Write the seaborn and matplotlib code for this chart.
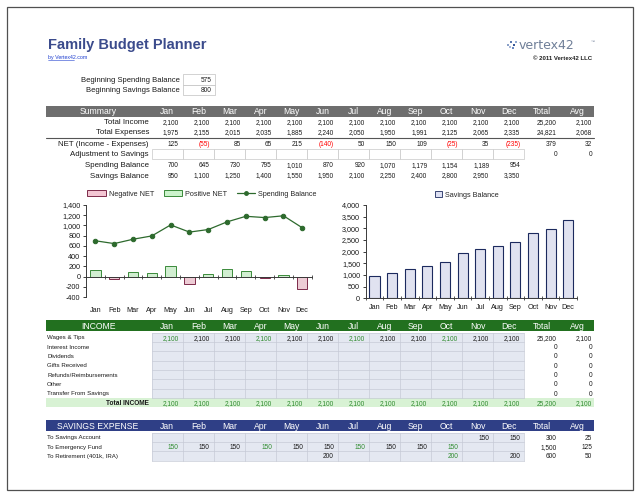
import matplotlib
matplotlib.use("Agg")
import matplotlib.pyplot as plt
from matplotlib.patches import Rectangle, Patch
from matplotlib.lines import Line2D
from matplotlib.ticker import FuncFormatter
import seaborn as sns
import numpy as np
import pandas as pd

months = ["Jan", "Feb", "Mar", "Apr", "May", "Jun", "Jul", "Aug", "Sep", "Oct", "Nov", "Dec"]

# summary block
total_income = [2100, 2100, 2100, 2100, 2100, 2100, 2100, 2100, 2100, 2100, 2100, 2100]
total_expenses = [1975, 2155, 2015, 2035, 1885, 2240, 2050, 1950, 1991, 2125, 2065, 2335]
net = [125, -55, 85, 65, 215, -140, 50, 150, 109, -25, 35, -235]
spending_balance = [700, 645, 730, 795, 1010, 870, 920, 1070, 1179, 1154, 1189, 954]
savings_balance = [950, 1100, 1250, 1400, 1550, 1950, 2100, 2250, 2400, 2800, 2950, 3350]
summary_total = {"income": 25200, "expenses": 24821, "net": 379, "adjust": 0}
summary_avg = {"income": 2100, "expenses": 2068, "net": 32, "adjust": 0}
begin_spending = 575
begin_savings = 800

# income block
income_labels = ["Wages & Tips", "Interest Income", "Dividends", "Gifts Received",
                 "Refunds/Reimbursements", "Other", "Transfer From Savings"]
wages = [2100, 2100, 2100, 2100, 2100, 2100, 2100, 2100, 2100, 2100, 2100, 2100]
income_totals = [25200, 0, 0, 0, 0, 0, 0]
income_avgs = [2100, 0, 0, 0, 0, 0, 0]

# savings expense block
savings_labels = ["To Savings Account", "To Emergency Fund", "To Retirement (401k, IRA)"]
to_savings = [None, None, None, None, None, None, None, None, None, None, 150, 150]
to_emergency = [150, 150, 150, 150, 150, 150, 150, 150, 150, 150, None, None]
to_retirement = [None, None, None, None, None, 200, None, None, None, 200, None, 200]
savings_totals = [300, 1500, 600]
savings_avgs = [25, 125, 50]

sns.set_theme(style="white")
plt.rcParams["font.family"] = ["Liberation Sans", "DejaVu Sans"]

fig = plt.figure(figsize=(6.4, 4.97), dpi=100)
bg = fig.add_axes([0, 0, 1, 1])
bg.set_xlim(0, 640)
bg.set_ylim(497, 0)
bg.axis("off")

col0, col_w = 151.7, 31.05
tot_r, avg_r = 557, 592
tot_c, avg_c = 542, 577
GREEN_TXT = "#2e8b2e"


def fmt(v):
    if v is None:
        return ""
    if v < 0:
        return f"({-v:,})"
    return f"{v:,}"


def txt(x, y, s, ha="right", size=4.7, color="#1a1a1a", **kw):
    bg.text(x, y, s, ha=ha, va="center_baseline", fontsize=size, color=color, **kw)


def header(y0, y1, title, color):
    bg.add_patch(Rectangle((46, y0), 548, y1 - y0, fc=color, ec="none"))
    yc = (y0 + y1) / 2
    txt(98, yc, title, ha="center", size=6.2, color="white")
    for i, m in enumerate(months):
        txt(col0 + col_w * i + col_w / 2, yc, m, ha="center", size=6.2, color="white")
    txt(tot_c, yc, "Total", ha="center", size=6.2, color="white")
    txt(avg_c, yc, "Avg", ha="center", size=6.2, color="white")


# page frame
bg.add_patch(Rectangle((7, 7), 626, 483, fill=False, ec="#505050", lw=0.9))

# title block
txt(48, 44, "Family Budget Planner", ha="left", size=10.5, color="#3b4b8c", weight="bold")
txt(48, 57.5, "by Vertex42.com", ha="left", size=3.8, color="#1f3fd0")
bg.plot([48, 74], [59.6, 59.6], color="#1f3fd0", lw=0.4)
txt(519, 44, "vertex42", ha="left", size=9, color="#6f7f98", family="DejaVu Sans")
txt(591, 41, "\u2122", ha="left", size=3, color="#6f7f98")
bg.scatter([508, 511, 514, 510, 513, 516], [45, 42, 45, 47, 48, 42], marker="s", s=3,
           c=["#8aa0c8", "#5a78b0", "#3a5a9a", "#a8b8d8", "#6b88c0", "#90a8d0"], lw=0)
txt(592, 57.5, "\u00a9 2011 Vertex42 LLC", ha="right", size=4.3, color="#202020", weight="bold")

# beginning balances
for yc, lab, val in [(79.5, "Beginning Spending Balance", begin_spending),
                     (90, "Beginning Savings Balance", begin_savings)]:
    txt(180, yc, lab, size=5.5)
    bg.add_patch(Rectangle((183, yc - 5.2), 32, 10.4, fc="white", ec="#c0c0c0", lw=0.5))
    txt(212, yc, fmt(val), size=4.7)

# summary table
header(105.5, 116.5, "Summary", "#6e6e6e")
rows = [(122, "Total Income", total_income, "income"),
        (132, "Total Expenses", total_expenses, "expenses"),
        (143.5, "NET (Income - Expenses)", net, "net")]
for yc, lab, vals, key in rows:
    txt(149, yc, lab, size=5.7)
    for i, v in enumerate(vals):
        txt(col0 + col_w * (i + 1) - 4, yc, fmt(v), color="red" if v < 0 else "#1a1a1a")
    txt(tot_r, yc, fmt(summary_total[key]))
    txt(avg_r, yc, fmt(summary_avg[key]))
bg.plot([46, 594], [138, 138], color="#555555", lw=0.8)
txt(149, 153.5, "Adjustment to Savings", size=5.7)
for i in range(12):
    bg.add_patch(Rectangle((col0 + col_w * i, 148.5), col_w, 10, fc="white", ec="#c8c8c8", lw=0.5))
txt(tot_r, 153.5, fmt(summary_total["adjust"]))
txt(avg_r, 153.5, fmt(summary_avg["adjust"]))
for yc, lab, vals in [(164.5, "Spending Balance", spending_balance),
                      (175, "Savings Balance", savings_balance)]:
    txt(149, yc, lab, size=5.7)
    for i, v in enumerate(vals):
        txt(col0 + col_w * (i + 1) - 4, yc, fmt(v))

# income table
header(320, 331, "INCOME", "#22701f")
row_h = 9.35
grid_top = 332.5
bg.add_patch(Rectangle((col0, grid_top), col_w * 12, row_h * 7, fc="#e4e8f1", ec="none"))
for k in range(8):
    bg.plot([col0, col0 + col_w * 12], [grid_top + k * row_h] * 2, color="#c6cad6", lw=0.5)
for i in range(13):
    bg.plot([col0 + col_w * i] * 2, [grid_top, grid_top + row_h * 7], color="#c6cad6", lw=0.5)
for k, lab in enumerate(income_labels):
    yc = grid_top + row_h * (k + 0.5)
    txt(47, yc, lab, ha="left", size=4.4)
    if k == 0:
        for i, v in enumerate(wages):
            txt(col0 + col_w * (i + 1) - 4, yc, fmt(v), color=GREEN_TXT if i % 3 == 0 else "#1a1a1a")
    txt(tot_r, yc, fmt(income_totals[k]))
    txt(avg_r, yc, fmt(income_avgs[k]))
ty0 = grid_top + row_h * 7
bg.add_patch(Rectangle((46, ty0), 548, 9.5, fc="#d8f2d4", ec="none"))
txt(149, ty0 + 4.75, "Total INCOME", size=4.7, weight="bold")
for i, v in enumerate(total_income):
    txt(col0 + col_w * (i + 1) - 4, ty0 + 4.75, fmt(v), color=GREEN_TXT)
txt(tot_r, ty0 + 4.75, fmt(income_totals[0]), color=GREEN_TXT)
txt(avg_r, ty0 + 4.75, fmt(income_avgs[0]), color=GREEN_TXT)

# savings expense table
header(420, 431, "SAVINGS EXPENSE", "#2f3f86")
sg_top = 432.5
bg.add_patch(Rectangle((col0, sg_top), col_w * 12, row_h * 3, fc="#e4e8f1", ec="none"))
for k in range(4):
    bg.plot([col0, col0 + col_w * 12], [sg_top + k * row_h] * 2, color="#c6cad6", lw=0.5)
for i in range(13):
    bg.plot([col0 + col_w * i] * 2, [sg_top, sg_top + row_h * 3], color="#c6cad6", lw=0.5)
greens = [set(), {0, 3, 6, 9}, {9}]
for k, (lab, vals) in enumerate(zip(savings_labels, [to_savings, to_emergency, to_retirement])):
    yc = sg_top + row_h * (k + 0.5)
    txt(47, yc, lab, ha="left", size=4.4)
    for i, v in enumerate(vals):
        txt(col0 + col_w * (i + 1) - 4, yc, fmt(v), color=GREEN_TXT if i in greens[k] else "#1a1a1a")
    txt(tot_r, yc, fmt(savings_totals[k]))
    txt(avg_r, yc, fmt(savings_avgs[k]))

# ---- chart 1: NET bars + spending balance line
df_net = pd.DataFrame({"month": months, "net": net,
                       "kind": ["Positive NET" if v >= 0 else "Negative NET" for v in net]})
ax1 = fig.add_axes([86 / 640, 1 - 297 / 497, 225.7 / 640, 92 / 497])
neg_fc, neg_ec = "#f3c6d3", "#7d2a4a"
pos_fc, pos_ec = "#ccf3cc", "#3a8a3a"
line_c = "#2d6a2d"
sns.barplot(data=df_net, x="month", y="net", hue="kind", dodge=False, width=0.55,
            palette={"Positive NET": pos_fc, "Negative NET": neg_fc}, legend=False, ax=ax1)
for p in ax1.patches:
    p.set_edgecolor(neg_ec if p.get_height() < 0 else pos_ec)
    p.set_linewidth(0.7)
sns.lineplot(x=months, y=spending_balance, color=line_c, marker="o", markersize=3.2,
             markeredgecolor=line_c, linewidth=0.9, ax=ax1)
ax1.set_ylim(-400, 1400)
ax1.set_yticks(range(-400, 1401, 200))

# ---- chart 2: savings balance bars
ax2 = fig.add_axes([365.7 / 640, 1 - 298.3 / 497, 211.3 / 640, 93.3 / 497])
sns.barplot(x=months, y=savings_balance, color="#dde0f3", edgecolor="#1c2a5e",
            linewidth=0.8, width=0.57, ax=ax2)
ax2.set_ylim(0, 4000)
ax2.set_yticks(range(0, 4001, 500))

for ax in (ax1, ax2):
    ax.set_facecolor("none")
    ax.set_xlim(-0.5, 11.5)
    ax.set_xlabel("")
    ax.set_ylabel("")
    ax.yaxis.set_major_formatter(FuncFormatter(lambda v, _: f"{v:,.0f}"))
    for s in ("top", "right"):
        ax.spines[s].set_visible(False)
    for s in ("left", "bottom"):
        ax.spines[s].set_color("#3a3a3a")
        ax.spines[s].set_linewidth(0.7)
    ax.tick_params(axis="y", labelsize=5.2, length=2.5, width=0.6, pad=1.5, colors="#1a1a1a",
                   left=True, direction="out")
    ax.set_xticks(np.arange(-0.5, 12, 1), minor=True)
    ax.tick_params(axis="x", which="minor", length=3, width=0.6, direction="inout",
                   color="#3a3a3a", bottom=True)
    ax.tick_params(axis="x", which="major", length=0, labelsize=5.2, colors="#1a1a1a")

ax1.spines["bottom"].set_position(("data", 0))
ax1.tick_params(axis="x", which="major", pad=22)
ax2.tick_params(axis="x", which="major", pad=4)

h1 = [Patch(fc=neg_fc, ec=neg_ec, lw=0.7, label="Negative NET"),
      Patch(fc=pos_fc, ec=pos_ec, lw=0.7, label="Positive NET"),
      Line2D([], [], color=line_c, marker="o", markersize=2.5, lw=0.9, label="Spending Balance")]
fig.legend(handles=h1, loc="center", bbox_to_anchor=(202 / 640, 1 - 194 / 497), ncol=3,
           fontsize=5.2, frameon=False, handlelength=2.6, handleheight=0.8,
           columnspacing=1.3, handletextpad=0.4)
fig.legend(handles=[Patch(fc="#dde0f3", ec="#1c2a5e", lw=0.6, label="Savings Balance")],
           loc="center", bbox_to_anchor=(467 / 640, 1 - 195 / 497), fontsize=5.2,
           frameon=False, handlelength=0.9, handleheight=0.9, handletextpad=0.4)

fig.savefig("out.png", dpi=100)
